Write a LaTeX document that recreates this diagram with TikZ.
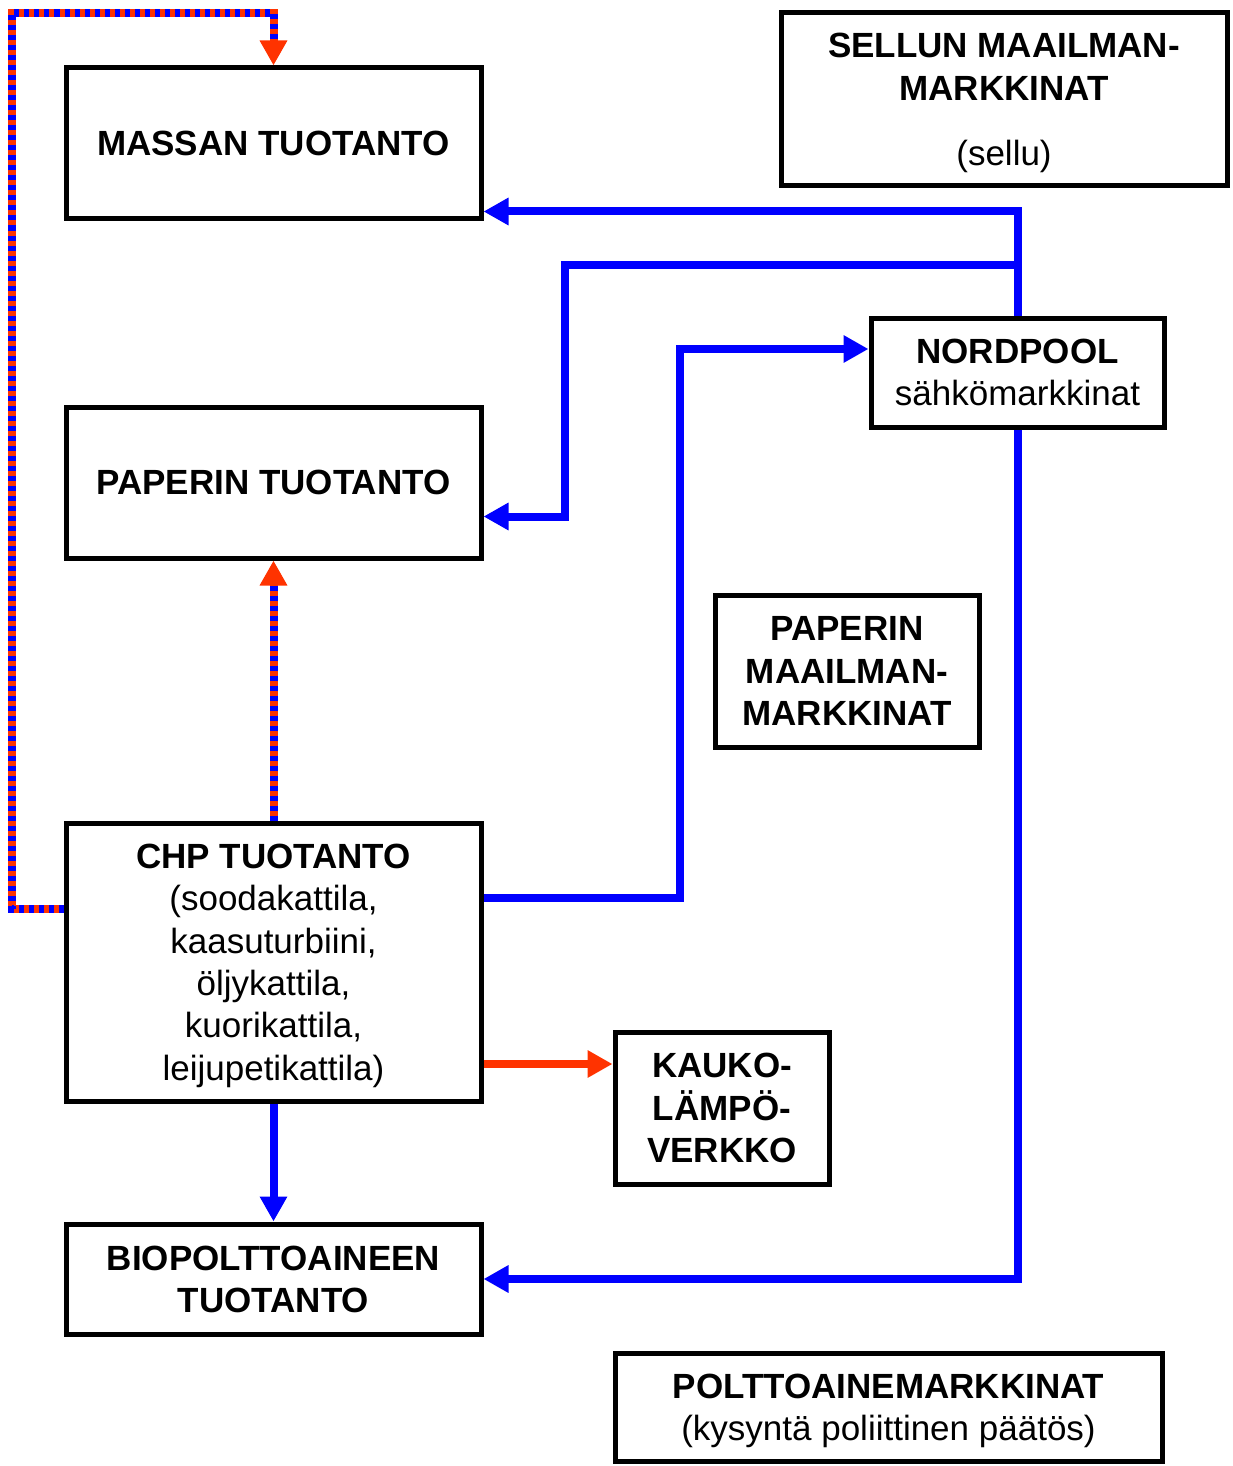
\documentclass[tikz,border=0pt]{standalone}
\usepackage{fontspec}
\setmainfont{Liberation Sans}
\usetikzlibrary{arrows.meta}
\definecolor{heatred}{RGB}{255,51,0}
\tikzset{
  box/.style={draw, line width=2.5pt, inner sep=0pt, align=center, text depth=0pt,
    font=\fontsize{17.5}{21.2}\selectfont},
  flow/.style={draw=blue, line width=4pt, -{Triangle[length=12.5pt,width=13pt]}},
  heat/.style={draw=heatred, line width=4pt, -{Triangle[length=12.5pt,width=13pt]}},
  mixed/.style={draw=heatred, line width=4pt, -{Triangle[length=12.5pt,width=13pt]},
    postaction={draw=blue, -, line width=4pt, dash pattern=on 2.5pt off 2.5pt, shorten >=12.5pt}}
}
\begin{document}
\begin{tikzpicture}[x=0.5pt, y=-0.5pt]
\useasboundingbox (0,0) rectangle (1232,1466);
    % Tuotantoyksikot
 \node[box, minimum width=207.5pt, minimum height=75.5pt] (mas) at (273.5,143.5) {\textbf{MASSAN TUOTANTO}};
 \node[box, minimum width=207.5pt, minimum height=75.5pt] (pap) at (273.5,482.5) {\textbf{PAPERIN TUOTANTO}};
 \node[box, minimum width=207.5pt, minimum height=139pt] (chp) at (273.5,962) {\textbf{CHP TUOTANTO}\\(soodakattila,\\kaasuturbiini,\\öljykattila,\\kuorikattila,\\leijupetikattila)};
 \node[box, minimum width=207.5pt, minimum height=55pt] (bio) at (273.5,1279) {\textbf{BIOPOLTTOAINEEN}\\\textbf{TUOTANTO}};
    % Markkinat
 \node[box, minimum width=223pt, minimum height=86.5pt] (sel) at (1004,99.5) {\textbf{SELLUN MAAILMAN-}\\\textbf{MARKKINAT}\\[11.5pt](sellu)};
 \node[box, minimum width=146.5pt, minimum height=54.5pt] (nord) at (1017.5,372.5) {\textbf{NORDPOOL}\\sähkömarkkinat};
 \node[box, minimum width=132pt, minimum height=76pt] (pmm) at (847,671) {\textbf{PAPERIN}\\\textbf{MAAILMAN-}\\\textbf{MARKKINAT}};
 \node[box, minimum width=107pt, minimum height=76pt] (kau) at (722,1108) {\textbf{KAUKO-}\\\textbf{LÄMPÖ-}\\\textbf{VERKKO}};
 \node[box, minimum width=273.5pt, minimum height=54pt] (pol) at (888.5,1407) {\textbf{POLTTOAINEMARKKINAT}\\(kysyntä poliittinen päätös)};
    % Taitepisteet
 \coordinate (j1) at (1017.5,265);
 \coordinate (k1) at (565,265);
 \coordinate (k2) at (680,349);
 \coordinate (c1) at (12,13);
    % Sahko
 \draw[flow] (nord.north) |- ([yshift=5pt]mas.south east);
 \draw[flow] (j1) -- (k1) |- ([yshift=-17pt]pap.east);
 \draw[flow] ([yshift=32pt]chp.east) -| (k2) -- ([yshift=11.75pt]nord.west);
 \draw[flow] (nord.south) |- (bio.east);
 \draw[flow] (chp.south) -- (bio.north);
    % Lampo
 \draw[heat] ([yshift=-51pt]chp.east) -- ([yshift=-51pt]chp.east -| kau.west);
 \draw[mixed] (chp.north) -- (pap.south);
 \draw[mixed] ([yshift=26.5pt]chp.west) -| (c1) -| (mas.north);
\end{tikzpicture}
\end{document}
